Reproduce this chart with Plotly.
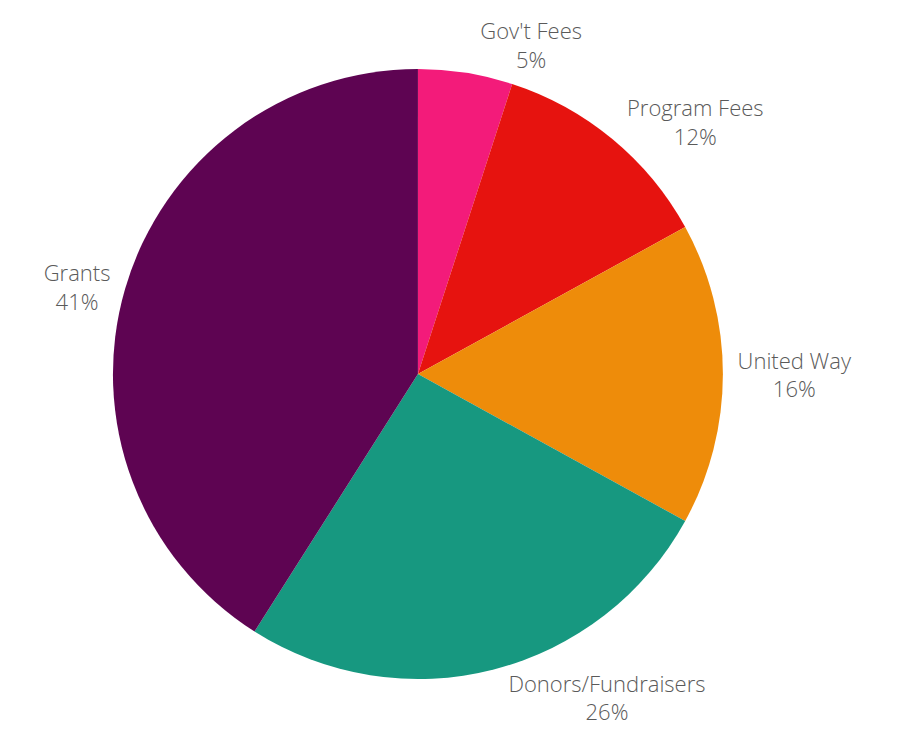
import plotly.graph_objects as go

labels = ["Gov't Fees", "Program Fees", "United Way", "Donors/Fundraisers", "Grants"]
values = [5, 12, 16, 26, 41]
colors = ["#F31B7A", "#E6130F", "#EE8C0A", "#179880", "#5E0452"]

fig = go.Figure(go.Pie(
    labels=labels,
    values=values,
    sort=False,
    direction="clockwise",
    rotation=0,
    automargin=False,
    domain=dict(x=[0.117, 0.797], y=[0.059, 0.949]),
    marker=dict(colors=colors, line=dict(width=0)),
    textposition="outside",
    texttemplate="%{label}<br>%{value}%",
    textfont=dict(family="Open Sans", size=22, color="#5a5a5a", weight=300),
    showlegend=False,
    hoverinfo="label+percent",
))

fig.update_layout(
    width=897, height=738,
    autosize=False,
    margin=dict(l=0, r=0, t=0, b=0, autoexpand=False),
    paper_bgcolor="white",
    plot_bgcolor="white",
)

fig.write_html("out.html")
